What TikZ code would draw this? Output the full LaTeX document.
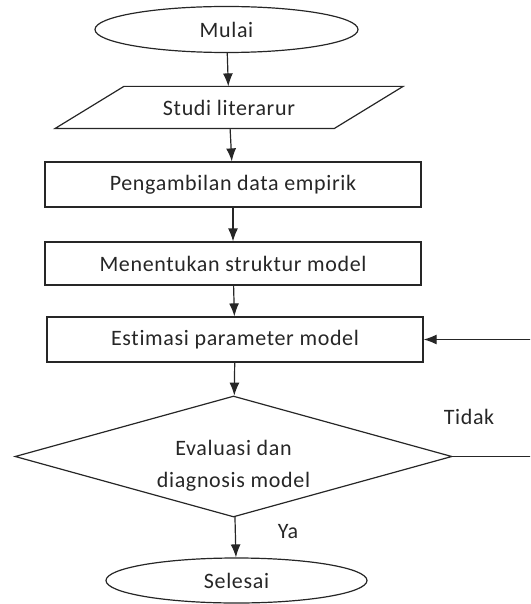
\documentclass[tikz,border=0pt]{standalone}
\usepackage{fontspec}
\setmainfont[Ligatures=NoCommon,LetterSpace=3]{Carlito}
\usepackage{tikz}
\usetikzlibrary{arrows.meta,shapes.geometric}
\tikzstyle{terminal}=[ellipse,draw,minimum width=263pt,minimum height=46pt,inner sep=0pt]
\tikzstyle{process}=[rectangle,draw,minimum width=376pt,minimum height=44pt,inner sep=0pt]
\tikzstyle{io}=[rectangle,minimum width=278pt,minimum height=41pt,inner sep=0pt]
\tikzstyle{decision}=[diamond,draw,aspect=3.6,minimum width=437pt,minimum height=121pt,inner sep=0pt,align=center]
\tikzstyle{arrow} = [draw,-{Latex[length=13pt,width=10pt]}]

\begin{document}
\begin{tikzpicture}[x=1pt,y=-1pt,line width=1.2pt,black!85,
    font=\fontsize{22}{32}\selectfont\color{black!78}]
    \useasboundingbox (0,0) rectangle (530,604);
    \clip (0,0) rectangle (530,604);
    \node[terminal] (mulai) at (226.5,29.5) {Mulai};
    \node[io] (studi) at (229,107.5) {Studi literarur};
    \draw ([xshift=34.5pt]studi.north west) -- ([xshift=34.5pt]studi.north east)
        -- ([xshift=-34.5pt]studi.south east) -- ([xshift=-34.5pt]studi.south west) -- cycle;
    \node[process,minimum height=45pt] (ambil) at (233,184.5) {Pengambilan data empirik};
    \node[process,minimum height=43pt] (struktur) at (233,263.5) {Menentukan struktur model};
    \node[process,minimum height=45pt] (estimasi) at (235,339.5) {Estimasi parameter model};
    \node[decision] (evaluasi) at (233.5,456.5) {\rule{0pt}{33pt}Evaluasi dan\\diagnosis model};
    \node[terminal,minimum width=261pt,minimum height=45pt] (selesai) at (236.5,580.5) {Selesai};
    \node (tidak) at (469,417) {Tidak};
    \node (ya) at (288,532) {Ya};
    \coordinate (balik) at (560,456.5);
    \foreach \source/\dest in {mulai/studi, studi/ambil, ambil/struktur, struktur/estimasi, estimasi/evaluasi, evaluasi/selesai}
        \path[arrow] (\source) -- (\dest);
    \path[arrow] (evaluasi.east) -- (balik) |- (estimasi.east);
\end{tikzpicture}
\end{document}
